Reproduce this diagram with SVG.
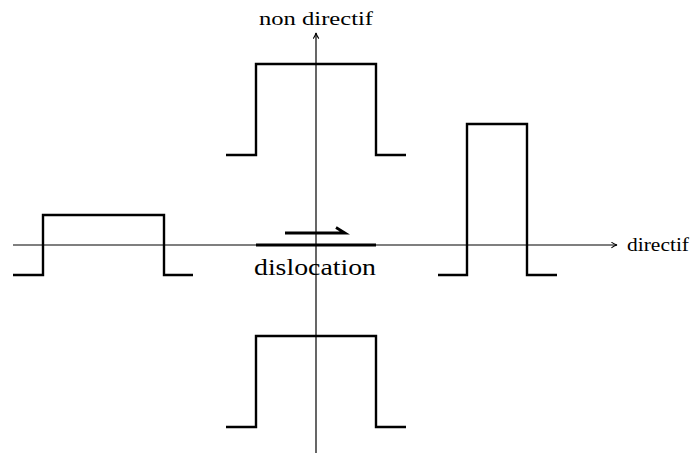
<svg xmlns="http://www.w3.org/2000/svg" width="699" height="454" viewBox="0 0 699 454">
<style>
.ax{stroke:#000;stroke-width:1.2;fill:none}
.p{stroke:#000;stroke-width:2.4;fill:none;stroke-linejoin:miter}
text{font-family:"Liberation Serif","DejaVu Serif",serif;fill:#000}
</style>
<defs>
<marker id="ah" viewBox="0 0 10 10" refX="9" refY="5" markerWidth="7" markerHeight="7" markerUnits="userSpaceOnUse" orient="auto">
<path d="M1,1 Q5,4 9,5 Q5,6 1,9" fill="none" stroke="#000" stroke-width="1.5"/>
</marker>
</defs>
<g id="axes">
<line class="ax" x1="13" y1="245" x2="617" y2="245" marker-end="url(#ah)"/>
<line class="ax" x1="316" y1="453" x2="316" y2="33" marker-end="url(#ah)"/>
</g>
<text x="316" y="25" font-size="19" text-anchor="middle" textLength="114" lengthAdjust="spacingAndGlyphs">non directif</text>
<text x="627" y="251" font-size="19" textLength="62" lengthAdjust="spacingAndGlyphs">directif</text>
<g id="pulse-top"><polyline class="p" points="226,155 256,155 256,64 376,64 376,155 406,155"/></g>
<g id="pulse-right"><polyline class="p" points="438,275 467,275 467,124 527,124 527,275 557,275"/></g>
<g id="pulse-left"><polyline class="p" points="13,275 43,275 43,215 164,215 164,275 193,275"/></g>
<g id="pulse-bottom"><polyline class="p" points="226,427 256,427 256,336 376,336 376,427 406,427"/></g>
<g id="dislocation">
<line x1="256" y1="245" x2="376" y2="245" stroke="#000" stroke-width="3"/>
<path d="M285,233 H345 L336,227.5" fill="none" stroke="#000" stroke-width="2.8" stroke-linecap="butt"/>
<text x="315" y="275" font-size="24" text-anchor="middle" textLength="122" lengthAdjust="spacingAndGlyphs">dislocation</text>
</g>
</svg>
